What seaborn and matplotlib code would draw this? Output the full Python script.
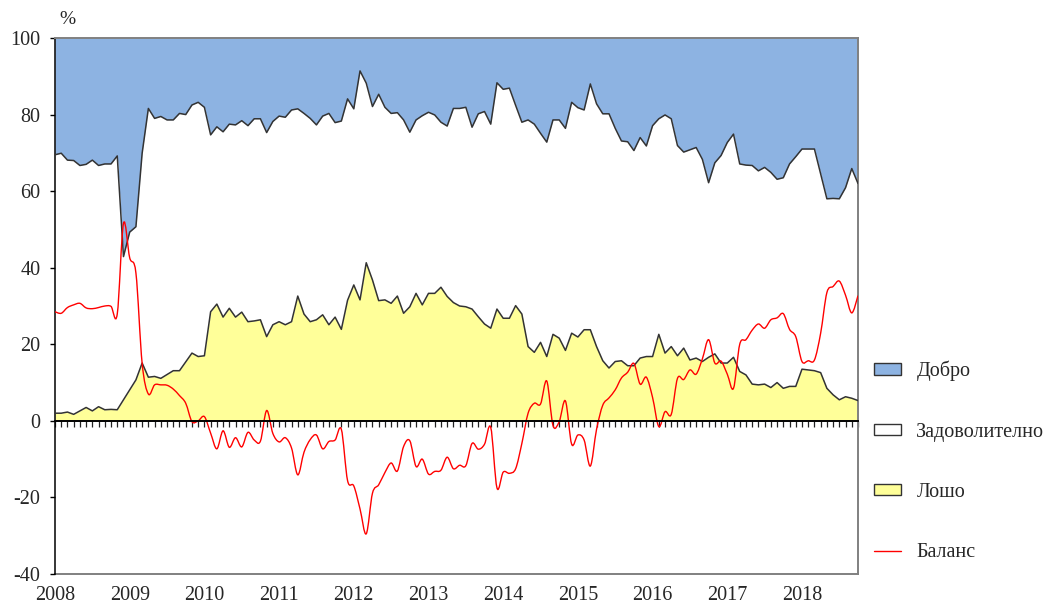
import numpy as np
import pandas as pd
import matplotlib
matplotlib.use("Agg")
import matplotlib.pyplot as plt
import seaborn as sns
from matplotlib.path import Path
from matplotlib.patches import PathPatch, Patch
from matplotlib.lines import Line2D

# ---- data (monthly, Jan 2008 - Oct 2018), values in % ----
years = [str(y) for y in range(2008, 2019)]

# upper edge of "Задоволително" (= Лошо + Задоволително = 100 - Добро)
upper = [69.5, 69.9, 68.1, 68.0, 66.7, 67.0, 68.1, 66.7, 67.1, 67.1,
         69.2, 42.9, 49.3, 50.7, 69.9, 81.6, 79.0, 79.5, 78.6, 78.6,
         80.3, 80.0, 82.5, 83.2, 81.9, 74.7, 76.8, 75.5, 77.5, 77.3,
         78.4, 77.1, 78.9, 78.9, 75.3, 78.2, 79.6, 79.3, 81.2, 81.5,
         80.3, 79.0, 77.3, 79.6, 80.3, 77.9, 78.3, 84.1, 81.5, 91.4,
         88.2, 82.1, 85.3, 81.9, 80.3, 80.5, 78.6, 75.4, 78.6, 79.7,
         80.6, 79.9, 78.0, 77.0, 81.6, 81.6, 81.9, 76.7, 80.2, 80.8,
         77.5, 88.3, 86.6, 86.9, 82.4, 78.0, 78.6, 77.5, 75.1, 72.8,
         78.6, 78.6, 76.4, 83.2, 81.8, 81.2, 88.0, 82.8, 80.2, 80.2,
         76.4, 73.1, 72.9, 70.6, 74.0, 71.8, 77.1, 78.9, 79.9, 78.9,
         71.9, 70.2, 70.8, 71.4, 68.3, 62.2, 67.4, 69.3, 72.7, 74.9,
         67.1, 66.8, 66.7, 65.3, 66.2, 64.9, 63.1, 63.5, 67.1, 69.0,
         71.0, 71.0, 71.0, 64.5, 58.0, 58.1, 58.0, 60.9, 65.9, 62.0]

# "Лошо"
bad = [2.0, 2.0, 2.3, 1.7, 2.6, 3.5, 2.6, 3.7, 2.9, 3.0,
       2.9, 5.5, 8.1, 10.7, 15.1, 11.4, 11.6, 11.1, 12.1, 13.1,
       13.1, 15.4, 17.7, 16.8, 17.0, 28.5, 30.5, 27.1, 29.4, 27.1,
       28.4, 25.9, 26.1, 26.4, 22.0, 25.1, 25.9, 25.1, 25.9, 32.6,
       27.9, 25.9, 26.4, 27.7, 25.1, 27.1, 23.9, 31.5, 35.5, 31.6,
       41.3, 36.8, 31.4, 31.6, 30.7, 32.6, 28.1, 29.8, 33.3, 30.3,
       33.3, 33.3, 34.9, 32.5, 30.9, 30.0, 29.8, 29.2, 27.2, 25.3,
       24.2, 29.2, 26.8, 26.8, 30.1, 27.9, 19.4, 17.9, 20.5, 16.8,
       22.6, 21.6, 18.4, 22.9, 21.9, 23.8, 23.8, 19.4, 15.7, 13.8,
       15.5, 15.7, 14.4, 14.4, 16.4, 16.8, 16.8, 22.6, 17.7, 19.4,
       17.0, 19.0, 15.9, 16.4, 15.5, 16.6, 17.5, 15.1, 15.1, 16.6,
       12.9, 12.0, 9.6, 9.4, 9.6, 8.7, 10.0, 8.5, 9.0, 9.0,
       13.5, 13.3, 13.1, 12.6, 8.5, 6.8, 5.5, 6.3, 5.9, 5.3]

labels = ["Добро", "Задоволително", "Лошо", "Баланс"]

BLUE = "#8DB3E2"
YELLOW = "#FFFF99"
EDGE = "#333333"
GRAY = "#808080"

upper_a = np.array(upper)
bad_a = np.array(bad)
good_a = 100 - upper_a           # Добро
balance_a = good_a - bad_a       # Баланс = Добро - Лошо
x = np.arange(len(bad))

sns.set_style("white")
plt.rcParams["font.family"] = ["Liberation Serif", "DejaVu Serif"]
plt.rcParams["axes.unicode_minus"] = False
FS = 14.5

fig = plt.figure(figsize=(10.48, 6.07), dpi=100)
W, H = 1048, 607
ax = fig.add_axes([55 / W, 1 - 574 / H, (858 - 55) / W, (574 - 38) / H])

ax.fill_between(x, upper_a, 100, color=BLUE, lw=0, zorder=1)
ax.fill_between(x, bad_a, upper_a, color="white", lw=0, zorder=1)
ax.fill_between(x, 0, bad_a, color=YELLOW, lw=0, zorder=1)

df = pd.DataFrame({"m": x, "upper": upper_a, "bad": bad_a})
sns.lineplot(data=df, x="m", y="upper", color=EDGE, lw=1.1, ax=ax, zorder=3)
sns.lineplot(data=df, x="m", y="bad", color=EDGE, lw=1.1, ax=ax, zorder=3)

# smoothed balance line (Bezier through the data points, like a smoothed chart line)
pts = np.column_stack([x, balance_a]).astype(float)
n = len(pts)
verts = [pts[0]]
codes = [Path.MOVETO]
for i in range(n - 1):
    p0 = pts[i - 1] if i > 0 else pts[i]
    p1 = pts[i]
    p2 = pts[i + 1]
    p3 = pts[i + 2] if i + 2 < n else pts[i + 1]
    c1 = p1 + (p2 - p0) / 6.0
    c2 = p2 - (p3 - p1) / 6.0
    verts += [c1, c2, p2]
    codes += [Path.CURVE4] * 3
ax.add_patch(PathPatch(Path(verts, codes), fill=False, edgecolor="#FF0000",
                       lw=1.0, zorder=4))

ax.set_xlim(0, len(bad) - 1)
ax.set_ylim(-40, 100)
ax.set_xlabel("")
ax.set_ylabel("")

# axis at zero with monthly tick marks
ax.spines["bottom"].set_position(("data", 0))
ax.spines["bottom"].set_color("black")
ax.spines["bottom"].set_linewidth(1.4)
ax.spines["bottom"].set_zorder(5)
ax.set_xticks(x)
ax.tick_params(axis="x", which="both", direction="out", length=4.3, width=0.9,
               color="#222222", labelbottom=False, bottom=True)

ax.spines["left"].set_color("black")
ax.spines["left"].set_linewidth(1.1)
for s in ("top", "right"):
    ax.spines[s].set_color(GRAY)
    ax.spines[s].set_linewidth(1.4)

ax.set_yticks(range(-40, 101, 20))
ax.tick_params(axis="y", direction="out", length=3.6, width=1.0, color="black",
               labelsize=FS, pad=7, left=True)

secax = ax.secondary_xaxis("bottom")
secax.set_xticks(range(0, len(bad), 12), labels=years)
secax.tick_params(length=0, labelsize=FS, pad=9)
secax.spines["bottom"].set_color(GRAY)
secax.spines["bottom"].set_linewidth(1.4)

fig.text(67 / W, 1 - 19 / H, "%", ha="center", va="center", fontsize=14)

handles = [Patch(facecolor=BLUE, edgecolor=EDGE, lw=1.0),
           Patch(facecolor="white", edgecolor=EDGE, lw=1.0),
           Patch(facecolor=YELLOW, edgecolor=EDGE, lw=1.0),
           Line2D([0], [0], color="#FF0000", lw=1.0)]
fig.legend(handles, labels, loc="center left",
           bbox_to_anchor=(874 / W, 1 - 461.5 / H), frameon=False,
           fontsize=FS, labelspacing=2.05, handlelength=1.35,
           handleheight=0.5, handletextpad=0.75, borderpad=0,
           borderaxespad=0)

fig.savefig("out.png", dpi=100)
